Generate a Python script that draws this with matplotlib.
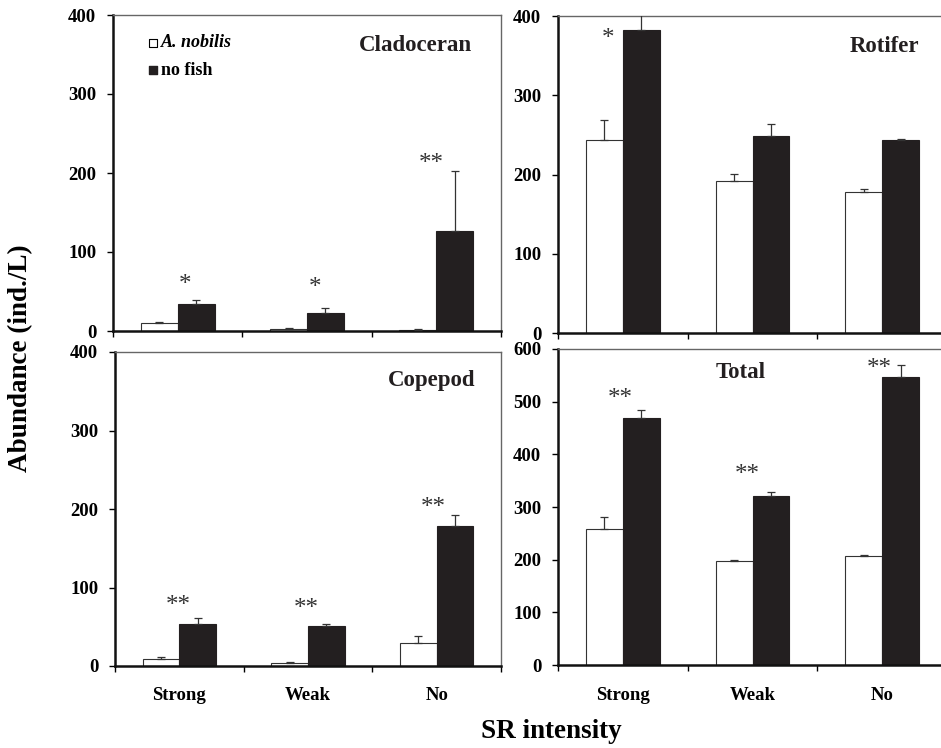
import matplotlib
matplotlib.use('Agg')
import matplotlib.pyplot as plt
import numpy as np

plt.rcParams['font.family'] = ['Liberation Serif', 'DejaVu Serif']
plt.rcParams['font.weight'] = 'bold'

groups = ['Strong', 'Weak', 'No']

# mean values and upper errors
clad_fish = [9.7, 3.0, 1.7]
clad_fish_err = [1.5, 1.0, 0.8]
clad_nofish = [33.8, 23.0, 127.0]
clad_nofish_err = [6.0, 5.7, 75.5]
clad_stars = ['*', '*', '**']
clad_star_y = [44, 40, 198]
clad_star_x = [0.56, 0.56, 0.46]

rot_fish = [243.7, 192.4, 177.3]
rot_fish_err = [24.5, 8.8, 4.2]
rot_nofish = [382.0, 248.7, 243.7]
rot_nofish_err = [30.0, 14.7, 1.3]
rot_stars = ['*', '', '']
rot_star_y = [357, 0, 0]
rot_star_x = [0.385, 0.5, 0.5]

cope_fish = [9.3, 3.8, 29.7]
cope_fish_err = [1.7, 1.2, 8.9]
cope_nofish = [54.0, 51.4, 178.0]
cope_nofish_err = [7.6, 2.6, 14.0]
cope_stars = ['**', '**', '**']
cope_star_y = [62, 58, 187]
cope_star_x = [0.49, 0.49, 0.47]

tot_fish = [259.0, 198.0, 207.0]
tot_fish_err = [22.6, 2.0, 2.0]
tot_nofish = [469.6, 321.5, 547.0]
tot_nofish_err = [13.9, 6.5, 23.0]
tot_stars = ['**', '**', '**']
tot_star_y = [485, 340, 541]
tot_star_x = [0.48, 0.46, 0.48]

W, H = 941, 748
fig = plt.figure(figsize=(W / 100, H / 100), dpi=100)


def px_axes(left, right, top, bottom):
    return fig.add_axes([left / W, 1 - bottom / H, (right - left) / W, (bottom - top) / H])


def panel(ax, fish, fish_err, nofish, nofish_err, stars, star_y, star_x,
          ymax, ystep, title, title_xy, title_ha, xlabels):
    x = np.arange(3) + 0.5
    bw = 0.285
    ax.bar(x - bw / 2, fish, bw, color='white', edgecolor='#333333', linewidth=0.8, zorder=2)
    ax.bar(x + bw / 2, nofish, bw, color='#231f20', edgecolor='#231f20', linewidth=0.8, zorder=2)
    ax.errorbar(x - bw / 2, fish, yerr=[np.zeros(3), fish_err], fmt='none',
                ecolor='#333333', elinewidth=0.9, capsize=3, capthick=0.9, zorder=3)
    ax.errorbar(x + bw / 2, nofish, yerr=[np.zeros(3), nofish_err], fmt='none',
                ecolor='#333333', elinewidth=0.9, capsize=3, capthick=0.9, zorder=3)
    for i in range(3):
        if stars[i]:
            ax.text(i + star_x[i], star_y[i], stars[i], ha='center', va='bottom',
                    fontsize=18, fontweight='normal', color='#333333')
    ax.set_xlim(0, 3)
    ax.set_ylim(0, ymax)
    ax.set_yticks(np.arange(0, ymax + 1, ystep))
    ax.set_xticks([0, 1, 2, 3])
    ax.set_xticklabels([])
    ax.tick_params(axis='both', direction='out', length=4, width=1, labelsize=13.5, pad=8)
    for s in ['left', 'bottom']:
        ax.spines[s].set_linewidth(1.8)
        ax.spines[s].set_color('#111111')
    for s in ['top', 'right']:
        ax.spines[s].set_linewidth(1.0)
        ax.spines[s].set_color('#666666')
    ax.text(title_xy[0], title_xy[1], title, transform=ax.transAxes, ha=title_ha,
            va='center', fontsize=16.5, fontweight='bold', color='#231f20')
    if xlabels:
        for i, g in enumerate(groups):
            ax.text(i + 0.5, -0.095, g, transform=ax.get_xaxis_transform(), ha='center',
                    va='center', fontsize=13.5, fontweight='bold')


ax1 = px_axes(113, 501, 15, 331)
panel(ax1, clad_fish, clad_fish_err, clad_nofish, clad_nofish_err, clad_stars,
      clad_star_y, clad_star_x, 400, 100, 'Cladoceran', (0.925, 0.905), 'right', False)
ax1.scatter([0.31], [365], marker='s', s=32, facecolor='white', edgecolor='black', linewidth=0.8)
ax1.scatter([0.31], [330], marker='s', s=32, facecolor='#231f20', edgecolor='#231f20')
ax1.text(0.37, 365, 'A. nobilis', fontsize=13, fontstyle='italic', fontweight='bold', va='center')
ax1.text(0.37, 330, 'no fish', fontsize=13, fontweight='bold', va='center')

ax2 = px_axes(558, 947, 16, 333)
panel(ax2, rot_fish, rot_fish_err, rot_nofish, rot_nofish_err, rot_stars,
      rot_star_y, rot_star_x, 400, 100, 'Rotifer', (0.838, 0.905), 'center', False)

ax3 = px_axes(115, 501, 352, 666)
panel(ax3, cope_fish, cope_fish_err, cope_nofish, cope_nofish_err, cope_stars,
      cope_star_y, cope_star_x, 400, 100, 'Copepod', (0.933, 0.91), 'right', True)

ax4 = px_axes(558, 947, 349, 665)
panel(ax4, tot_fish, tot_fish_err, tot_nofish, tot_nofish_err, tot_stars,
      tot_star_y, tot_star_x, 600, 100, 'Total', (0.47, 0.925), 'center', True)

fig.text(21 / W, 1 - 358 / H, 'Abundance (ind./L)', rotation=90, ha='center', va='center',
         fontsize=19.5, fontweight='bold')
fig.text(551 / W, 1 - 731 / H, 'SR intensity', ha='center', va='center',
         fontsize=19.5, fontweight='bold')

fig.savefig('out.png', dpi=100)
